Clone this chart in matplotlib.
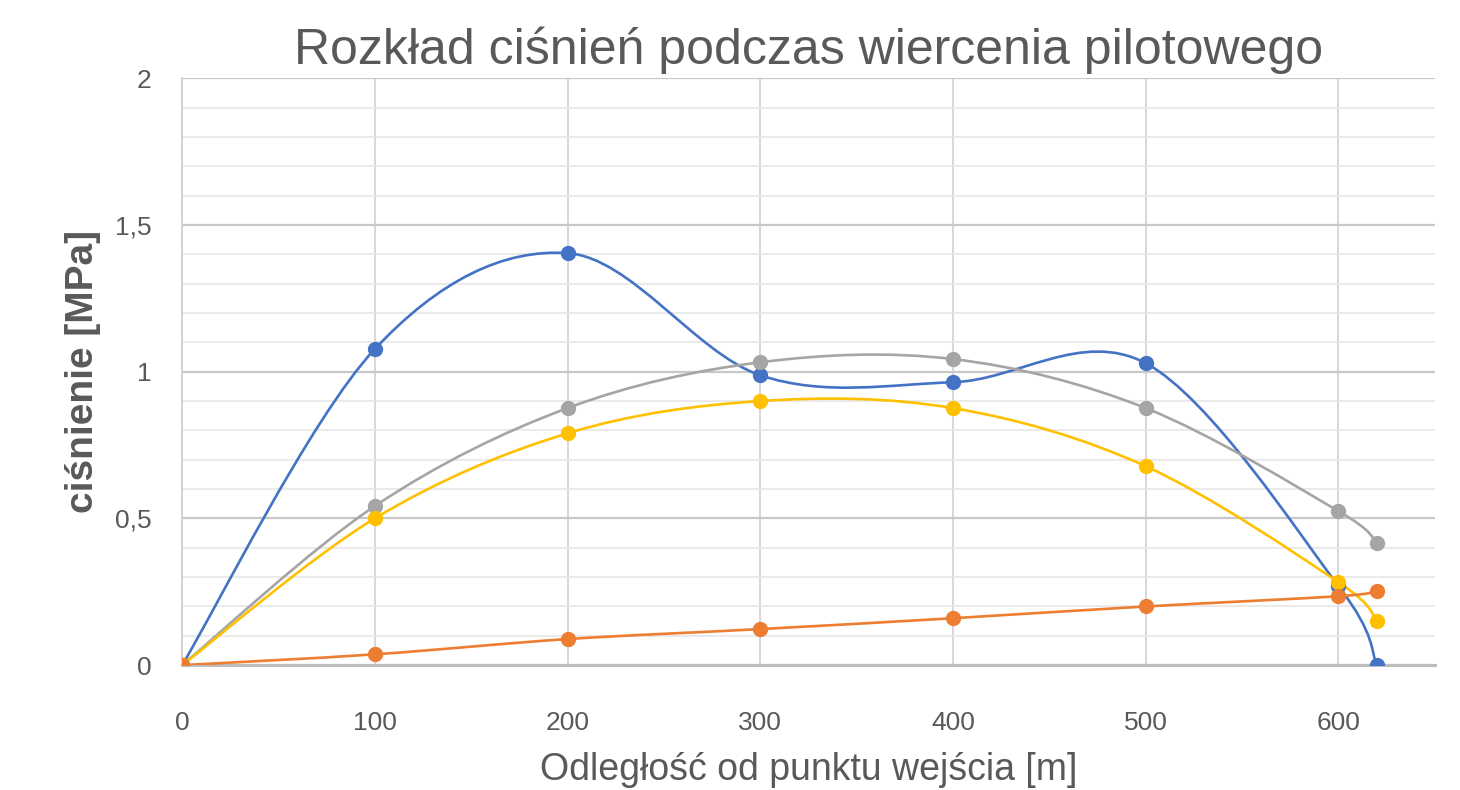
import numpy as np
import matplotlib.pyplot as plt
from matplotlib.path import Path
from matplotlib.patches import PathPatch
import matplotlib.ticker as ticker

plt.rcParams['font.family'] = ['Liberation Sans', 'DejaVu Sans']

# data
distance = [0, 100, 200, 300, 400, 500, 600, 620]
blue_vals = [0, 1.077, 1.404, 0.988, 0.964, 1.029, 0.27, 0.0]
orange_vals = [0, 0.037, 0.089, 0.123, 0.160, 0.200, 0.235, 0.252]
gray_vals = [0, 0.542, 0.876, 1.032, 1.043, 0.876, 0.525, 0.416]
yellow_vals = [0, 0.500, 0.790, 0.900, 0.876, 0.678, 0.283, 0.150]

series = [
    (blue_vals, '#4472C4', 3),
    (gray_vals, '#A5A5A5', 3),
    (yellow_vals, '#FFC000', 3),
    (orange_vals, '#ED7D31', 4),
]

title = 'Rozkład ciśnień podczas wiercenia pilotowego'
x_label = 'Odległość od punktu wejścia [m]'
y_label = 'ciśnienie [MPa]'


def smooth_path(x, y):
    # excel style smoothed line: cubic bezier through every point
    pts = np.column_stack([x, y]).astype(float)
    n = len(pts)
    verts = [pts[0]]
    codes = [Path.MOVETO]
    for i in range(n - 1):
        p0 = pts[i - 1] if i > 0 else pts[i]
        p1 = pts[i]
        p2 = pts[i + 1]
        p3 = pts[i + 2] if i + 2 < n else pts[i + 1]
        c1 = p1 + (p2 - p0) / 6
        c2 = p2 - (p3 - p1) / 6
        verts += [c1, c2, p2]
        codes += [Path.CURVE4] * 3
    return Path(verts, codes)


fig = plt.figure(figsize=(14.6, 7.9), dpi=100)
ax = fig.add_axes([0.1247, 0.158, 0.858, 0.743])

for vals, col, z in series:
    patch = PathPatch(smooth_path(distance, vals), fill=False, edgecolor=col,
                      lw=1.9, zorder=z, capstyle='round')
    ax.add_patch(patch)
    ax.plot(distance, vals, 'o', color=col, markersize=10, zorder=z + 0.5)

ax.set_xlim(0, 650)
ax.set_ylim(0, 2)
ax.xaxis.set_major_locator(ticker.FixedLocator([0, 100, 200, 300, 400, 500, 600]))
ax.yaxis.set_major_locator(ticker.MultipleLocator(0.5))
ax.yaxis.set_minor_locator(ticker.MultipleLocator(0.1))
ax.yaxis.set_major_formatter(ticker.FuncFormatter(lambda v, p: f'{v:g}'.replace('.', ',')))

ax.grid(True, which='major', axis='x', color='#d4d4d4', lw=1.3)
ax.grid(True, which='major', axis='y', color='#c8c8c8', lw=1.6)
ax.grid(True, which='minor', axis='y', color='#e6e6e6', lw=1.2)
ax.set_axisbelow(True)

for s in ['top', 'right']:
    ax.spines[s].set_visible(False)
ax.spines['left'].set_color('#d0d0d0')
ax.spines['left'].set_linewidth(1.3)
ax.spines['bottom'].set_color('#bdbdbd')
ax.spines['bottom'].set_linewidth(2.2)

ax.tick_params(which='both', length=0)
ax.tick_params(axis='x', labelsize=19, colors='#595959', pad=33)
ax.tick_params(axis='y', labelsize=19, colors='#595959', pad=22)

ax.set_title(title, fontsize=36, color='#595959', pad=10)
ax.set_xlabel(x_label, fontsize=27, color='#595959', labelpad=12)
ax.set_ylabel(y_label, fontsize=28, color='#595959', fontweight='bold', labelpad=10)

fig.savefig('out.png', dpi=100, facecolor='white')
